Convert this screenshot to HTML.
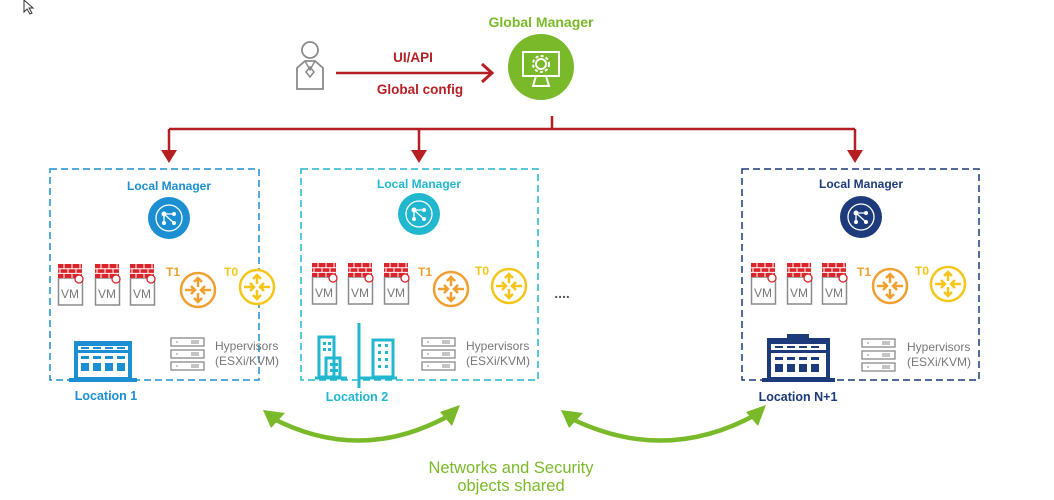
<!DOCTYPE html>
<html><head><meta charset="utf-8"><style>
html,body{margin:0;padding:0;background:#fff;}
svg{display:block;font-family:"Liberation Sans",sans-serif;}
</style></head><body>
<svg width="1054" height="500" viewBox="0 0 1054 500" xmlns="http://www.w3.org/2000/svg">
<defs>
<g id="fw">
  <rect x="0.5" y="14" width="24" height="27" fill="#fff" stroke="#8a8a8a" stroke-width="1.5"/>
  <rect x="0" y="0" width="24" height="14" fill="#d9252b"/>
  <path d="M0 4.7H24M0 9.4H24M6 0V4.7M14 0V4.7M22 0V4.7M2 4.7V9.4M10 4.7V9.4M18 4.7V9.4M6 9.4V14M14 9.4V14M22 9.4V14" stroke="#fff" stroke-width="1"/>
  <circle cx="21" cy="15" r="4" fill="#fff" stroke="#d9252b" stroke-width="1.3"/>
</g>
<g id="rt">
  <circle cx="0" cy="0" r="17" fill="#fff" stroke-width="2.5"/>
  <path d="M0 -3V-12M-4 -8L0 -12L4 -8M0 3V12M-4 8L0 12L4 8M-13 0H-3M-7 -4L-3 0L-7 4M13 0H3M7 -4L3 0L7 4" fill="none" stroke-width="2.5"/>
</g>
<g id="srv">
  <g fill="#fff" stroke="#8a8a8a" stroke-width="1.3">
    <rect x="0" y="0" width="33" height="8"/><rect x="0" y="12" width="33" height="8"/><rect x="0" y="24" width="33" height="8"/>
  </g>
  <g stroke="#8a8a8a" stroke-width="1">
    <path d="M5 4h2M5 16h2M5 28h2M21 2v4M23 2v4M25 2v4M27 2v4M21 14v4M23 14v4M25 14v4M27 14v4M21 26v4M23 26v4M25 26v4M27 26v4"/>
  </g>
</g>
<g id="lm">
  <circle cx="0" cy="0" r="13" fill="none" stroke="#fff" stroke-width="1.3"/>
  <path d="M-5 -4L5 -4M-5 -4L-5 5M-5 -4L5 5" stroke="#fff" stroke-width="1.3"/>
  <circle cx="-5" cy="-4" r="2.5" fill="#fff"/><circle cx="5" cy="-4" r="2" fill="#fff"/><circle cx="-5" cy="5" r="2" fill="#fff"/><circle cx="5" cy="5" r="2" fill="#fff"/>
</g>
</defs>

<path d="M24 0L24 12L27 9L30 14L32 13L29 8L33 8Z" fill="#fff" stroke="#333" stroke-width="1"/>

<text x="541" y="27" text-anchor="middle" font-size="14" font-weight="bold" fill="#7ab929">Global Manager</text>
<circle cx="541" cy="67" r="33" fill="#7ab929"/>
<rect x="523" y="52" width="36" height="24" fill="none" stroke="#fff" stroke-width="2"/>
<path d="M536 76L533 86H549L546 76" fill="none" stroke="#fff" stroke-width="2"/>
<circle cx="541" cy="64" r="5" fill="none" stroke="#fff" stroke-width="2"/>
<circle cx="541" cy="64" r="8" fill="none" stroke="#fff" stroke-width="2" stroke-dasharray="3 2.3"/>

<circle cx="310" cy="50" r="8" fill="none" stroke="#8a8a8a" stroke-width="1.8"/>
<path d="M297 89V68L305 61H315L323 68V89Z" fill="none" stroke="#8a8a8a" stroke-width="1.8"/>
<path d="M305 61L310 70L315 61M310 67L306 72L310 77L314 72Z" fill="none" stroke="#8a8a8a" stroke-width="1.5"/>

<line x1="336" y1="73" x2="490" y2="73" stroke="#b51f24" stroke-width="2.5"/>
<path d="M482 64L492 73L482 82" fill="none" stroke="#b51f24" stroke-width="3"/>
<text x="413" y="62" text-anchor="middle" font-size="13.5" font-weight="bold" fill="#b51f24">UI/API</text>
<text x="420" y="94" text-anchor="middle" font-size="13.5" font-weight="bold" fill="#b51f24">Global config</text>

<g stroke="#b51f24" stroke-width="2.5" fill="none">
<path d="M552 116V129M169 129H855M169 129V156M419 129V156M855 129V156"/>
</g>
<g fill="#b51f24">
<path d="M161 150L169 163L177 150Z"/><path d="M411 150L419 163L427 150Z"/><path d="M847 150L855 163L863 150Z"/>
</g>

<rect x="50" y="169" width="209" height="211" fill="none" stroke="#1b8fd1" stroke-width="1.5" stroke-dasharray="7 4"/>
<rect x="301" y="169" width="237" height="211" fill="none" stroke="#21b7cf" stroke-width="1.5" stroke-dasharray="7 4"/>
<rect x="742" y="169" width="237" height="211" fill="none" stroke="#1d3a7a" stroke-width="1.5" stroke-dasharray="7 4"/>

<text x="169" y="190" text-anchor="middle" font-size="12" font-weight="bold" fill="#1b8fd1">Local Manager</text>
<circle cx="169" cy="218" r="21" fill="#1b8fd1"/><use href="#lm" x="169" y="218"/>
<text x="419" y="188" text-anchor="middle" font-size="12" font-weight="bold" fill="#21b7cf">Local Manager</text>
<circle cx="419" cy="214" r="21" fill="#21b7cf"/><use href="#lm" x="419" y="214"/>
<text x="861" y="188" text-anchor="middle" font-size="12" font-weight="bold" fill="#1d3a7a">Local Manager</text>
<circle cx="861" cy="217" r="21" fill="#1d3a7a"/><use href="#lm" x="861" y="217"/>

<use href="#fw" x="58" y="264"/><use href="#fw" x="95" y="264"/><use href="#fw" x="130" y="264"/>
<use href="#fw" x="312" y="263"/><use href="#fw" x="348" y="263"/><use href="#fw" x="384" y="263"/>
<use href="#fw" x="751" y="263"/><use href="#fw" x="787" y="263"/><use href="#fw" x="822" y="263"/>
<g font-size="12" fill="#777" text-anchor="middle">
<text x="70" y="298">VM</text><text x="107" y="298">VM</text><text x="142" y="298">VM</text>
<text x="324" y="297">VM</text><text x="360" y="297">VM</text><text x="396" y="297">VM</text>
<text x="763" y="297">VM</text><text x="799" y="297">VM</text><text x="834" y="297">VM</text>
</g>

<g stroke="#f0a030" fill="#f0a030"><use href="#rt" x="198" y="290"/><use href="#rt" x="451" y="289"/><use href="#rt" x="890" y="286"/></g>
<g stroke="#f5c518" fill="#f5c518"><use href="#rt" x="257" y="287"/><use href="#rt" x="509" y="286"/><use href="#rt" x="948" y="284"/></g>
<g font-size="12" font-weight="bold">
<text x="166" y="276" fill="#f0a030">T1</text><text x="224" y="276" fill="#f5c518">T0</text>
<text x="418" y="276" fill="#f0a030">T1</text><text x="475" y="275" fill="#f5c518">T0</text>
<text x="857" y="276" fill="#f0a030">T1</text><text x="915" y="275" fill="#f5c518">T0</text>
</g>
<text x="562" y="298" text-anchor="middle" font-size="14" fill="#555" font-weight="bold">....</text>

<use href="#srv" x="171" y="338"/><use href="#srv" x="422" y="338"/><use href="#srv" x="862" y="339"/>
<g font-size="12" fill="#777">
<text x="215" y="350">Hypervisors</text><text x="215" y="365">(ESXi/KVM)</text>
<text x="466" y="350">Hypervisors</text><text x="466" y="365">(ESXi/KVM)</text>
<text x="907" y="351">Hypervisors</text><text x="907" y="366">(ESXi/KVM)</text>
</g>

<g fill="#1b8fd1">
<rect x="74" y="341" width="58" height="39"/>
<rect x="69" y="378" width="68" height="4"/>
</g>
<g fill="#fff">
<rect x="78" y="346" width="50" height="4"/>
<rect x="81" y="347" width="8" height="2" fill="#1b8fd1"/><rect x="93" y="347" width="8" height="2" fill="#1b8fd1"/><rect x="105" y="347" width="8" height="2" fill="#1b8fd1"/><rect x="117" y="347" width="8" height="2" fill="#1b8fd1"/>
<rect x="78" y="353" width="50" height="24"/>
</g>
<g fill="#1b8fd1">
<rect x="81" y="356" width="8" height="3"/><rect x="93" y="356" width="8" height="3"/><rect x="105" y="356" width="8" height="3"/><rect x="117" y="356" width="8" height="3"/>
<rect x="81" y="363" width="8" height="8"/><rect x="93" y="363" width="8" height="8"/><rect x="105" y="363" width="8" height="8"/><rect x="117" y="363" width="8" height="8"/>
</g>
<text x="106" y="400" text-anchor="middle" font-size="12.5" font-weight="bold" fill="#1b8fd1">Location 1</text>

<g fill="none" stroke="#21b7cf" stroke-width="3">
<rect x="319" y="337" width="15" height="40"/>
<rect x="326" y="358" width="14" height="19"/>
<rect x="373" y="340" width="20" height="37"/>
</g>
<g stroke="#21b7cf" stroke-width="3"><path d="M315 378H347M359 323V388M360 378H397"/></g>
<g fill="#21b7cf">
<rect x="323" y="342" width="3" height="3"/><rect x="328" y="342" width="3" height="3"/><rect x="323" y="348" width="3" height="3"/><rect x="328" y="348" width="3" height="3"/>
<rect x="330" y="363" width="3" height="3"/><rect x="335" y="363" width="3" height="3"/><rect x="330" y="369" width="3" height="3"/><rect x="335" y="369" width="3" height="3"/>
<rect x="378" y="344" width="3" height="3"/><rect x="385" y="344" width="3" height="3"/><rect x="378" y="351" width="3" height="3"/><rect x="385" y="351" width="3" height="3"/><rect x="378" y="358" width="3" height="3"/><rect x="385" y="358" width="3" height="3"/><rect x="378" y="365" width="3" height="3"/><rect x="385" y="365" width="3" height="3"/>
</g>
<text x="357" y="401" text-anchor="middle" font-size="12.5" font-weight="bold" fill="#21b7cf">Location 2</text>

<g fill="#1d3a7a">
<rect x="767" y="338" width="63" height="43"/>
<rect x="762" y="378" width="73" height="4"/>
<rect x="787" y="334" width="22" height="5"/>
</g>
<rect x="771" y="344" width="55" height="33" fill="#fff"/>
<g fill="#1d3a7a">
<rect x="767" y="350" width="63" height="3"/>
<rect x="775" y="346" width="8" height="2"/><rect x="787" y="346" width="8" height="2"/><rect x="799" y="346" width="8" height="2"/><rect x="811" y="346" width="8" height="2"/>
<rect x="775" y="357" width="8" height="3"/><rect x="787" y="357" width="8" height="3"/><rect x="799" y="357" width="8" height="3"/><rect x="811" y="357" width="8" height="3"/>
<rect x="775" y="364" width="8" height="8"/><rect x="787" y="364" width="8" height="8"/><rect x="799" y="364" width="8" height="8"/><rect x="811" y="364" width="8" height="8"/>
</g>
<text x="798" y="401" text-anchor="middle" font-size="12.5" font-weight="bold" fill="#1d3a7a">Location N+1</text>

<g fill="none" stroke="#7ab929" stroke-width="4.5">
<path d="M272 418Q362 465 452 414"/>
<path d="M570 418Q665 465 757 414"/>
</g>
<g fill="#7ab929">
<path d="M263 410L285 413L271 428Z"/>
<path d="M460 405L452 426L440 412Z"/>
<path d="M561 410L583 413L569 428Z"/>
<path d="M766 405L758 426L746 412Z"/>
</g>
<text x="511" y="473" text-anchor="middle" font-size="16.5" fill="#7ab929">Networks and Security</text>
<text x="511" y="491" text-anchor="middle" font-size="16.5" fill="#7ab929">objects shared</text>
</svg>
</body></html>
